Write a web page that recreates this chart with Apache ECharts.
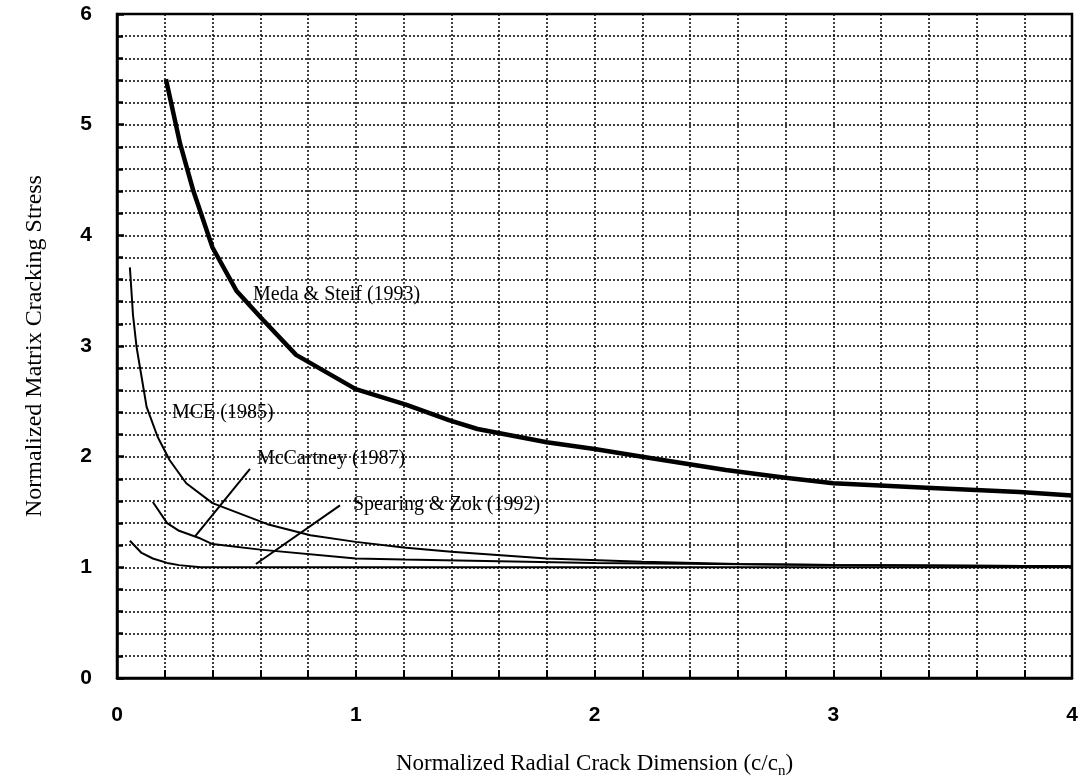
<!DOCTYPE html>
<html>
<head>
<meta charset="utf-8">
<script src="https://cdn.jsdelivr.net/npm/echarts@6/dist/echarts.min.js"></script>
<style>
html,body{margin:0;padding:0;background:#fff;}
#chart{width:1083px;height:784px;}
</style>
</head>
<body>
<div id="chart"></div>
<script>
// curves
var medaX = [0.205, 0.264, 0.32, 0.40, 0.50, 0.61, 0.75, 1.0, 1.21, 1.39, 1.51, 1.80, 2.0, 2.2, 2.55, 2.8, 3.0, 3.39, 3.78, 4.0];
var medaY = [5.41, 4.83, 4.40, 3.89, 3.50, 3.24, 2.92, 2.61, 2.47, 2.33, 2.25, 2.13, 2.07, 2.0, 1.88, 1.81, 1.76, 1.72, 1.68, 1.65];

var mceX = [0.054, 0.067, 0.082, 0.103, 0.124, 0.17, 0.22, 0.29, 0.40, 0.63, 0.81, 1.0, 1.2, 1.4, 1.8, 2.2, 2.6, 3.0, 4.0];
var mceY = [3.71, 3.28, 2.99, 2.72, 2.45, 2.18, 1.97, 1.76, 1.58, 1.39, 1.29, 1.23, 1.18, 1.14, 1.08, 1.05, 1.03, 1.02, 1.01];

var mccX = [0.15, 0.21, 0.26, 0.35, 0.40, 0.60, 1.0, 1.2, 2.0, 3.0, 4.0];
var mccY = [1.59, 1.40, 1.33, 1.26, 1.21, 1.16, 1.08, 1.07, 1.04, 1.02, 1.01];

var spzX = [0.054, 0.103, 0.15, 0.21, 0.26, 0.35, 1.0, 2.0, 3.0, 4.0];
var spzY = [1.24, 1.13, 1.08, 1.04, 1.02, 1.0, 1.0, 1.0, 1.0, 1.0];

// annotation texts and leader lines
var noteNames = ['Meda & Steif (1993)', 'MCE (1985)', 'McCartney (1987)', 'Spearing & Zok (1992)'];
var noteX = [0.57, 0.23, 0.586, 0.988];
var noteY = [3.46, 2.40, 1.98, 1.57];
var mccLeaderX = [0.557, 0.327], mccLeaderY = [1.89, 1.28];
var spzLeaderX = [0.934, 0.582], spzLeaderY = [1.56, 1.03];

var xTicks = ['0', '1', '2', '3', '4'];
var yTicks = ['0', '1', '2', '3', '4', '5', '6'];

function zip(xs, ys) {
	var out = [];
	for (var i = 0; i < xs.length; i++) out.push([xs[i], ys[i]]);
	return out;
}

var dotted = {color: '#000', width: 1.5, type: [2, 2]};

var myChar = echarts.init(document.getElementById('chart'));
var notes = [];
for (var i = 0; i < noteNames.length; i++) {
	notes.push({name: noteNames[i], value: [noteX[i], noteY[i]]});
}

var curve = function(name, data, w) {
	return {
		name: name, type: 'line', data: data, symbol: 'none', smooth: false,
		lineStyle: {color: '#000', width: w}, z: 5, animation: false
	};
};

var myOption = {
	animation: false,
	grid: {
		left: 117, top: 14, right: 11, bottom: 101,
		show: true, borderColor: '#000', borderWidth: 2.5, backgroundColor: 'transparent'
	},
	xAxis: {
		type: 'value', min: 0, max: 4, interval: 1,
		name: 'Normalized Radial Crack Dimension (c/c{sub|n})',
		nameLocation: 'middle', nameGap: 70,
		nameTextStyle: {
			fontFamily: 'Liberation Serif', fontSize: 23, color: '#000',
			rich: {sub: {fontFamily: 'Liberation Serif', fontSize: 15, verticalAlign: 'bottom', padding: [16, 0, 0, 0]}}
		},
		axisLine: {show: true, lineStyle: {color: '#000', width: 2.5}},
		axisTick: {show: true, inside: true, length: 8, lineStyle: {color: '#000', width: 2}},
		minorTick: {show: true, splitNumber: 5, length: 8, lineStyle: {color: '#000', width: 2}},
		splitLine: {show: true, lineStyle: dotted},
		minorSplitLine: {show: true, lineStyle: dotted},
		axisLabel: {
			margin: 27, fontFamily: 'Liberation Sans', fontWeight: 'bold', fontSize: 21, color: '#000',
			formatter: function(v) { return xTicks[Math.round(v)]; }
		}
	},
	yAxis: {
		type: 'value', min: 0, max: 6, interval: 1,
		name: 'Normalized Matrix Cracking Stress',
		nameLocation: 'middle', nameGap: 70,
		nameTextStyle: {fontFamily: 'Liberation Serif', fontSize: 24, color: '#000'},
		axisLine: {show: true, lineStyle: {color: '#000', width: 2.5}},
		axisTick: {show: true, inside: true, length: 7, lineStyle: {color: '#000', width: 2.5}},
		minorTick: {show: true, splitNumber: 5, length: 6, lineStyle: {color: '#000', width: 2.5}},
		splitLine: {show: true, lineStyle: dotted},
		minorSplitLine: {show: true, lineStyle: dotted},
		axisLabel: {
			margin: 25, fontFamily: 'Liberation Sans', fontWeight: 'bold', fontSize: 21, color: '#000',
			formatter: function(v) { return yTicks[Math.round(v)]; }
		}
	},
	series: [
		curve('Meda & Steif (1993)', zip(medaX, medaY), 4.5),
		curve('MCE (1985)', zip(mceX, mceY), 2),
		curve('McCartney (1987)', zip(mccX, mccY), 2),
		curve('Spearing & Zok (1992)', zip(spzX, spzY), 2),
		curve('leader1', zip(mccLeaderX, mccLeaderY), 2),
		curve('leader2', zip(spzLeaderX, spzLeaderY), 2),
		{
			name: 'notes', type: 'scatter', data: notes, symbolSize: 0, z: 6,
			itemStyle: {color: '#000', opacity: 1},
			label: {
				show: true, position: 'right', distance: 0,
				fontFamily: 'Liberation Serif', fontSize: 20, color: '#000',
				textBorderWidth: 0, opacity: 1,
				formatter: function(p) { return p.name; }
			}
		}
	]
};
myChar.setOption(myOption);
</script>
</body>
</html>
